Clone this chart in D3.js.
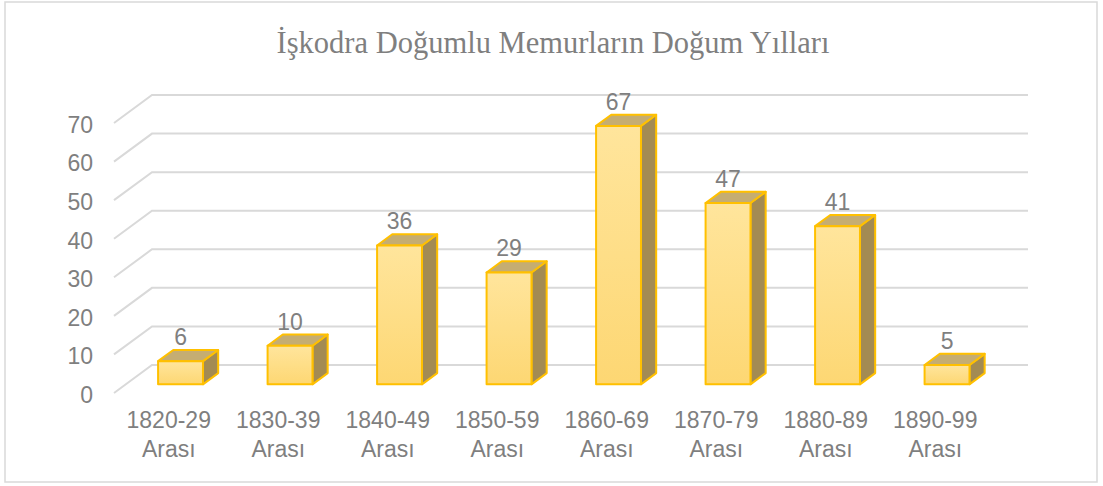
<!DOCTYPE html>
<html><head><meta charset="utf-8">
<script src="https://cdn.jsdelivr.net/npm/d3@7"></script>
<style>body{margin:0;background:#fff;}svg{display:block;}</style>
</head><body>
<svg id="c" width="1103" height="486"></svg>
<script>
const title = "İşkodra Doğumlu Memurların Doğum Yılları";
const categories = ["1820-29", "1830-39", "1840-49", "1850-59", "1860-69", "1870-79", "1880-89", "1890-99"];
const categorySuffix = "Arası";
const values = [6, 10, 36, 29, 67, 47, 41, 5];
const yTicks = [0, 10, 20, 30, 40, 50, 60, 70];

const svg = d3.select("#c");
const grey = "#7f7f7f";
const sans = "Liberation Sans, Arial, sans-serif";
const fs = 23;

// back-wall scales
const x = d3.scaleBand().domain(categories).range([152, 1028]).paddingInner(0).paddingOuter(0);
const y = d3.scaleLinear().domain([0, 70]).range([365, 95]);
// depth vector from back wall to front edge
const D = [-38, 28];
const at = (px, py, t) => [px + D[0] * t, py + D[1] * t];
const tFront = 0.69, tBack = 0.29;
const barW = x.bandwidth() * 0.41;

// border
svg.append("rect").attr("x", 5).attr("y", 2).attr("width", 1092).attr("height", 480)
  .attr("fill", "none").attr("stroke", "#d9d9d9").attr("stroke-width", 1.5);

// title
svg.append("text").attr("x", 553).attr("y", 53).attr("text-anchor", "middle")
  .attr("font-family", "Liberation Serif, Times New Roman, serif").attr("font-size", 30.5)
  .attr("fill", grey).text(title);

// gradient
const defs = svg.append("defs");
const g = defs.append("linearGradient").attr("id", "fg").attr("x1", 0).attr("y1", 0).attr("x2", 0).attr("y2", 1);
g.append("stop").attr("offset", "0%").attr("stop-color", "#ffe59c");
g.append("stop").attr("offset", "100%").attr("stop-color", "#fdd773");

// gridlines
const grid = svg.append("g").attr("stroke", "#d9d9d9").attr("stroke-width", 2).attr("fill", "none");
yTicks.forEach(v => {
  const yb = y(v);
  const f = at(x.range()[0], yb, 1);
  grid.append("path").attr("d", `M${f[0]},${f[1]}L${x.range()[0]},${yb}L${x.range()[1]},${yb}`);
});

// y tick labels
svg.append("g").selectAll("text").data(yTicks).join("text")
  .attr("x", d => at(x.range()[0], y(d), 1)[0] - 21)
  .attr("y", d => at(x.range()[0], y(d), 1)[1])
  .attr("dy", "0.43em").attr("text-anchor", "end")
  .attr("font-family", sans).attr("font-size", fs)
  .attr("fill", grey).text(d => d);

// bars
const bars = svg.append("g");
categories.forEach((c, i) => {
  const v = values[i];
  const cx = x(c) + x.bandwidth() / 2;
  const xl = cx - barW / 2, xr = cx + barW / 2;
  const FLT = at(xl, y(v), tFront), FRT = at(xr, y(v), tFront);
  const FRB = at(xr, y(0), tFront), FLB = at(xl, y(0), tFront);
  const BLT = at(xl, y(v), tBack), BRT = at(xr, y(v), tBack), BRB = at(xr, y(0), tBack);
  const gb = bars.append("g").attr("stroke", "#ffc000").attr("stroke-width", 2).attr("stroke-linejoin", "round");
  gb.append("path").attr("d", `M${FRT}L${FRB}L${BRB}L${BRT}Z`).attr("fill", "#a38b53");
  gb.append("path").attr("d", `M${FLT}L${FRT}L${BRT}L${BLT}Z`).attr("fill", "#c5ad72");
  gb.append("rect").attr("x", FLT[0]).attr("y", FLT[1]).attr("width", xr - xl).attr("height", FLB[1] - FLT[1])
    .attr("fill", "url(#fg)");
  // value label
  bars.append("text").attr("x", (FLT[0] + FRT[0]) / 2).attr("y", BLT[1] - 5)
    .attr("text-anchor", "middle").attr("font-family", sans)
    .attr("font-size", fs).attr("fill", grey).text(v);
  // category label (front edge of the floor)
  const lx = at(cx, 0, 1)[0];
  const t = svg.append("text").attr("text-anchor", "middle")
    .attr("font-family", sans).attr("font-size", fs).attr("fill", grey);
  t.append("tspan").attr("x", lx).attr("y", 428).text(c);
  t.append("tspan").attr("x", lx).attr("y", 457).text(categorySuffix);
});
</script>
</body></html>
